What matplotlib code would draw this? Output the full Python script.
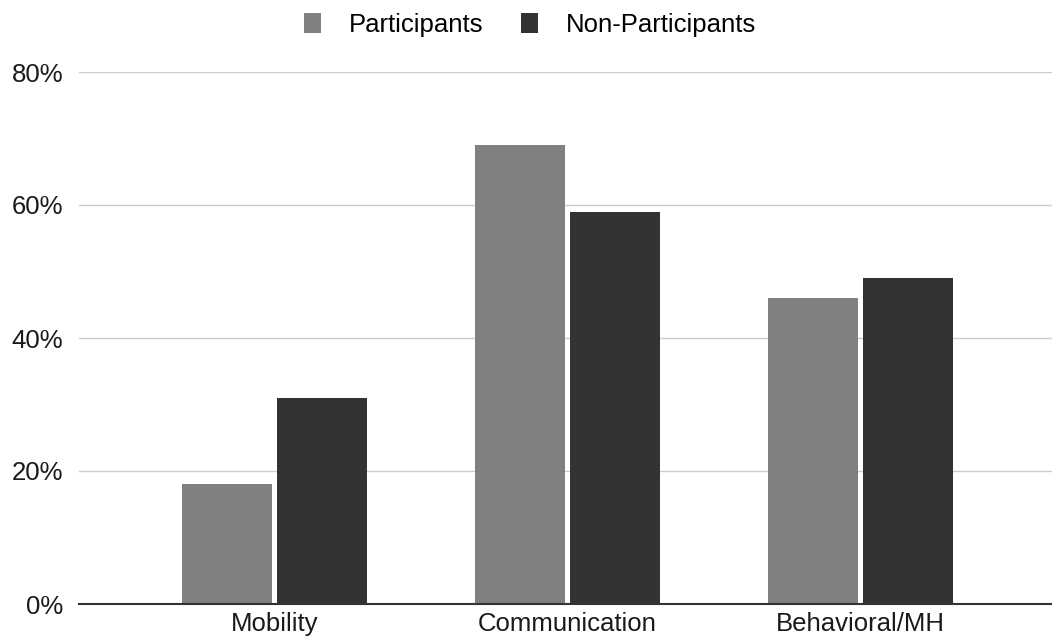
import matplotlib
matplotlib.use("Agg")
import matplotlib.pyplot as plt
import numpy as np

categories = ["Mobility", "Communication", "Behavioral/MH"]
participants = [18, 69, 46]
non_participants = [31, 59, 49]
y_ticks = [0, 20, 40, 60, 80]
y_tick_labels = ["0%", "20%", "40%", "60%", "80%"]

plt.rcParams["font.family"] = ["Liberation Sans", "DejaVu Sans"]
FS = 18.5

fig = plt.figure(figsize=(10.52, 6.43), dpi=100)
ax = fig.add_axes([79 / 1052, 1 - 604 / 643, 1 - 79 / 1052, (604 - 72) / 643])

x = np.arange(len(categories))
w = 0.307
off = 0.162
ax.bar(x - off, participants, width=w, color="#808080", label="Participants", zorder=3)
ax.bar(x + off, non_participants, width=w, color="#333333", label="Non-Participants", zorder=3)

ax.set_xlim(-0.667, 2.654)
ax.set_ylim(0, 80)
ax.set_yticks(y_ticks)
ax.set_yticklabels(y_tick_labels, fontsize=FS, color="#1a1a1a")
ax.set_xticks(x)
ax.set_xticklabels(categories, fontsize=FS, color="#1a1a1a")
ax.tick_params(axis="both", length=0)
ax.tick_params(axis="y", pad=11.5)
ax.tick_params(axis="x", pad=6)

ax.yaxis.grid(True, color="#cccccc", linewidth=1, zorder=0)
for s in ["top", "right", "left"]:
    ax.spines[s].set_visible(False)
ax.spines["bottom"].set_color("#333333")
ax.spines["bottom"].set_linewidth(1.5)
ax.spines["bottom"].set_zorder(4)

fig.legend(loc="upper center", bbox_to_anchor=(0.504, 1.016), ncol=2, frameon=False,
           fontsize=FS, handlelength=0.64, handleheight=0.8, handletextpad=1.1,
           columnspacing=1.48)

fig.savefig("out.png", dpi=100)
